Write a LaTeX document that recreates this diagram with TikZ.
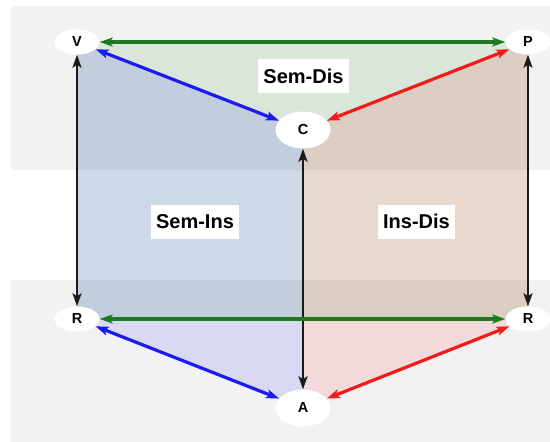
\documentclass[tikz,border=0pt]{standalone}
\usepackage{fontspec}
\setmainfont{Liberation Sans}
\usetikzlibrary{arrows.meta,shapes.geometric}
\definecolor{bandgray}{HTML}{F2F2F2}
\definecolor{edgegreen}{HTML}{1E7A1E}
\definecolor{edgeblue}{HTML}{1A1AF5}
\definecolor{edgered}{HTML}{F51A1A}
\definecolor{edgeblack}{HTML}{1A1A1A}
\tikzset{
  vert/.style={ellipse, fill=white, draw=none, inner sep=0pt, font=\bfseries\fontsize{14.5}{16}\selectfont},
  smallv/.style={vert, minimum width=45pt, minimum height=25pt},
  bigv/.style={vert, minimum width=55pt, minimum height=37pt},
  regionlabel/.style={fill=white, inner xsep=5pt, minimum height=34pt, font=\bfseries\fontsize{20}{22}\selectfont},
  link/.style={line width=3.2pt, {Stealth[length=13pt,width=9pt,inset=3pt]}-{Stealth[length=13pt,width=9pt,inset=3pt]}},
  vlink/.style={link, line width=2.5pt, edgeblack}
}
\begin{document}
\begin{tikzpicture}[x=1pt,y=-1pt]
\useasboundingbox (0,0) rectangle (550,442);
\fill[white] (0,0) rectangle (550,442);
\fill[bandgray] (11,6) rectangle (550,170);
\fill[bandgray] (11,280) rectangle (550,442);
% coordinates of the vertices
\coordinate (pV) at (77,42);
\coordinate (pP) at (528,42);
\coordinate (pC) at (303,130);
\coordinate (pRl) at (77,319);
\coordinate (pRr) at (528,319);
\coordinate (pA) at (303,408);
% shaded regions
\fill[green!50!black, opacity=0.1] (pV) -- (pP) -- (pRr) -- (pRl) -- cycle;
\fill[blue, opacity=0.1] (pV) -- (pC) -- (pA) -- (pRl) -- cycle;
\fill[red, opacity=0.1] (pP) -- (pC) -- (pA) -- (pRr) -- cycle;
% nodes
\node[smallv] (V) at (pV) {V};
\node[smallv] (P) at (pP) {P};
\node[bigv] (C) at (pC) {C};
\node[smallv] (Rl) at (pRl) {R};
\node[smallv] (Rr) at (pRr) {R};
\node[bigv] (A) at (pA) {A};
% edges
\draw[link, edgegreen] (V) -- (P);
\draw[link, edgeblue] (V) -- (C);
\draw[link, edgered] (P) -- (C);
\draw[vlink] (V) -- (Rl);
\draw[vlink] (P) -- (Rr);
\draw[vlink] (C) -- (A);
\draw[link, edgegreen] (Rl) -- (Rr);
\draw[link, edgeblue] (Rl) -- (A);
\draw[link, edgered] (Rr) -- (A);
% labels
\node[regionlabel] (semdis) at (303.5,76) {Sem-Dis};
\node[regionlabel] (semins) at (195,222) {Sem-Ins};
\node[regionlabel] (insdis) at (416.5,221.5) {Ins-Dis};
\end{tikzpicture}
\end{document}
